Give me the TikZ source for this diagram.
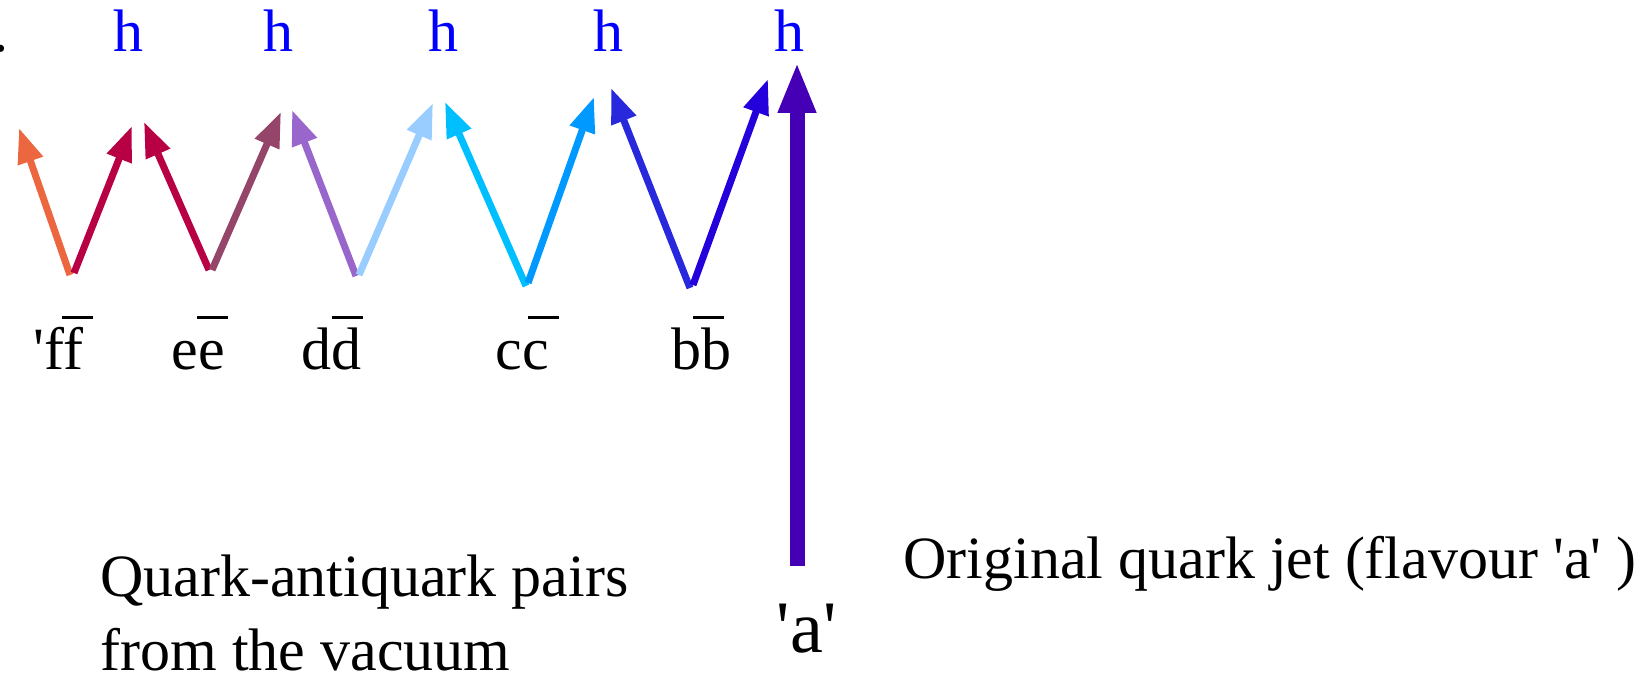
\documentclass[tikz,border=0pt]{standalone}
\usepackage{fontspec}
\newfontfamily\tnr{Liberation Serif}[Ligatures=NoCommon]
\usetikzlibrary{arrows.meta}
\definecolor{hblue}{HTML}{0000FF}
\definecolor{cOr}{HTML}{EC6640}
\definecolor{cCr}{HTML}{B80044}
\definecolor{cMv}{HTML}{95456A}
\definecolor{cPu}{HTML}{9966CC}
\definecolor{cLb}{HTML}{99CCFF}
\definecolor{cCy}{HTML}{00BFFF}
\definecolor{cAz}{HTML}{0099FF}
\definecolor{cDb}{HTML}{2828DC}
\definecolor{cBv}{HTML}{2400DD}
\definecolor{cJet}{HTML}{4500B5}
\begin{document}
\begin{tikzpicture}[x=0.5pt,y=-0.5pt,
  lbl/.style={font=\tnr\fontsize{30}{35}\selectfont, inner sep=0pt, anchor=base west},
  hlbl/.style={font=\tnr\fontsize{30}{35}\selectfont, text=hblue, inner sep=0pt, anchor=base},
  qarrow/.style={line width=3.5pt, -{Triangle[length=17.5pt,width=12.5pt]}},
  jet/.style={line width=7.5pt, -{Triangle[length=25.5pt,width=17.5pt]}},
  bar/.style={line width=1.5pt, black}]
\useasboundingbox (0,0) rectangle (1643,678);
% hadrons
\node[lbl] (dot) at (-6.5,52) {.};
\node[hlbl] (h1) at (128,52) {h};
\node[hlbl] (h2) at (278,52) {h};
\node[hlbl] (h3) at (443,52) {h};
\node[hlbl] (h4) at (608,52) {h};
\node[hlbl] (h5) at (789,52) {h};
% vertices and tips
\coordinate (v1a) at (70,275);  \coordinate (p1) at (19,128);
\coordinate (v1b) at (74,273);  \coordinate (p2) at (132,126);
\coordinate (v2a) at (209,270); \coordinate (p3) at (144,122);
\coordinate (v2b) at (212,270); \coordinate (p4) at (281,112);
\coordinate (v3a) at (356,276); \coordinate (p5) at (292,110);
\coordinate (v3b) at (359,275); \coordinate (p6) at (433,103);
\coordinate (v4a) at (526,286); \coordinate (p7) at (445,102);
\coordinate (v4b) at (528,283); \coordinate (p8) at (594,97);
\coordinate (v5a) at (690,288); \coordinate (p9) at (611,88);
\coordinate (v5b) at (693,285); \coordinate (p10) at (768,79);
\coordinate (ja) at (797,566);  \coordinate (jt) at (797,62);
\draw[qarrow, cOr] (v1a) -- (p1);
\draw[qarrow, cCr] (v1b) -- (p2);
\draw[qarrow, cCr] (v2a) -- (p3);
\draw[qarrow, cMv] (v2b) -- (p4);
\draw[qarrow, cPu] (v3a) -- (p5);
\draw[qarrow, cLb] (v3b) -- (p6);
\draw[qarrow, cCy] (v4a) -- (p7);
\draw[qarrow, cAz] (v4b) -- (p8);
\draw[qarrow, cDb] (v5a) -- (p9);
\draw[qarrow, cBv] (v5b) -- (p10);
\draw[jet, cJet] (ja) -- (jt);
% pair labels
\node[lbl] (ff) at (33,370) {'ff};
\node[lbl] (ee) at (171,370) {ee};
\node[lbl] (dd) at (301,370) {dd};
\node[lbl] (cc) at (495,370) {cc};
\node[lbl] (bb) at (671,370) {bb};
\draw[bar] (62,318) -- (93,318);
\draw[bar] (197,318) -- (228,318);
\draw[bar] (332,318) -- (363,318);
\draw[bar] (528,318) -- (559,318);
\draw[bar] (693,318) -- (724,318);
% captions
\node[lbl, font=\tnr\fontsize{37}{40}\selectfont] (qa) at (776.5,652) {'a'};
\node[lbl] (orig) at (903,578) {Original quark jet (flavour 'a' )};
\node[lbl, align=left] (vac) at (100,670) {Quark-antiquark pairs\\[2pt]from the vacuum};
\end{tikzpicture}
\end{document}
